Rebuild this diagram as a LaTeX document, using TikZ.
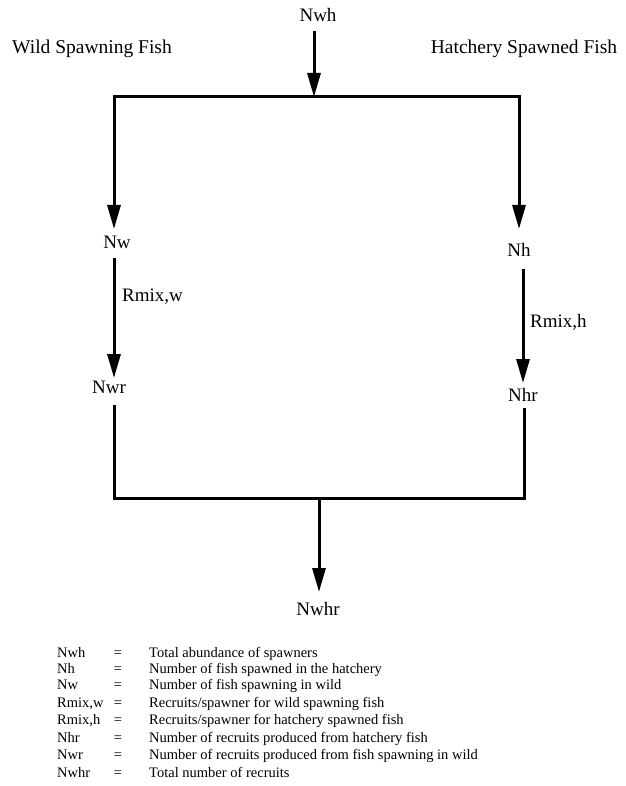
\documentclass[tikz,border=0pt]{standalone}
\usepackage{fontspec}
\setmainfont{Liberation Serif}
\usetikzlibrary{arrows.meta}
\tikzset{
  lab/.style={inner sep=0pt, font=\fontsize{19}{22}\selectfont},
  head/.style={inner sep=0pt, font=\fontsize{19.5}{22}\selectfont},
  leg/.style={inner sep=0pt, anchor=base west, font=\fontsize{14.5}{17}\selectfont},
  legeq/.style={inner sep=0pt, anchor=base, font=\fontsize{14.5}{17}\selectfont},
  wire/.style={line width=3pt, line cap=rect},
  arr/.style={line width=3pt, -{Triangle[length=24pt,width=13pt]}},
}
\begin{document}
\begin{tikzpicture}[x=1pt,y=-1pt]
\useasboundingbox (0,0) rectangle (625,786);
% headings
\node[head] (wild) at (92,49) {Wild Spawning Fish};
\node[head] (hatch) at (524,49) {Hatchery Spawned Fish};
% nodes
\node[lab, anchor=north] (Nwh) at (318,8) {Nwh};
\node[lab, anchor=north] (Nw) at (117,236) {Nw};
\node[lab, anchor=north] (Nh) at (519,243) {Nh};
\node[lab, anchor=north] (Nwr) at (109,381) {Nwr};
\node[lab, anchor=north] (Nhr) at (523,388) {Nhr};
\node[lab, anchor=north] (Nwhr) at (318,602) {Nwhr};
\node[lab, anchor=west] (Rw) at (122,297) {Rmix,w};
\node[lab, anchor=west] (Rh) at (530,322) {Rmix,h};
% junction coordinates
\coordinate (tl) at (114,97);
\coordinate (tm) at (314,97);
\coordinate (tr) at (519,97);
\coordinate (bl) at (114,498);
\coordinate (bm) at (319,498);
\coordinate (br) at (524,498);
% top bar
\draw[wire] (tl) -- (tr);
\draw[arr, shorten <=9pt] (tm |- Nwh.south) -- (tm);
\draw[arr, shorten >=7pt] (tl) -- (tl |- Nw.north);
\draw[arr, shorten >=14pt] (tr) -- (tr |- Nh.north);
% middle arrows
\draw[arr, shorten <=9pt, shorten >=3pt] (tl |- Nw.south) -- (tl |- Nwr.north);
\draw[arr, shorten <=12pt, shorten >=5pt] (Nhr |- Nh.south) -- (Nhr.north);
% bottom
\draw[wire] (bl |- Nwr.south) ++(0,12) -- (bl) -- (br) -- ([yshift=-8pt]br |- Nhr.south);
\draw[arr] (bm) -- ([yshift=10pt]bm |- Nwhr.north);
% legend
\foreach \n/\d/\y [count=\i] in {
  Nwh/Total abundance of spawners/657,
  Nh/Number of fish spawned in the hatchery/673,
  Nw/Number of fish spawning in wild/689,
  {Rmix,w}/Recruits\slash spawner for wild spawning fish/707,
  {Rmix,h}/Recruits\slash spawner for hatchery spawned fish/724,
  Nhr/Number of recruits produced from hatchery fish/742,
  Nwr/Number of recruits produced from fish spawning in wild/759,
  Nwhr/Total number of recruits/777}{
  \node[leg] (ln\i) at (57,\y) {\n};
  \node[legeq] (le\i) at (118,\y) {=};
  \node[leg] (ld\i) at (149,\y) {\d};
}
\end{tikzpicture}
\end{document}
